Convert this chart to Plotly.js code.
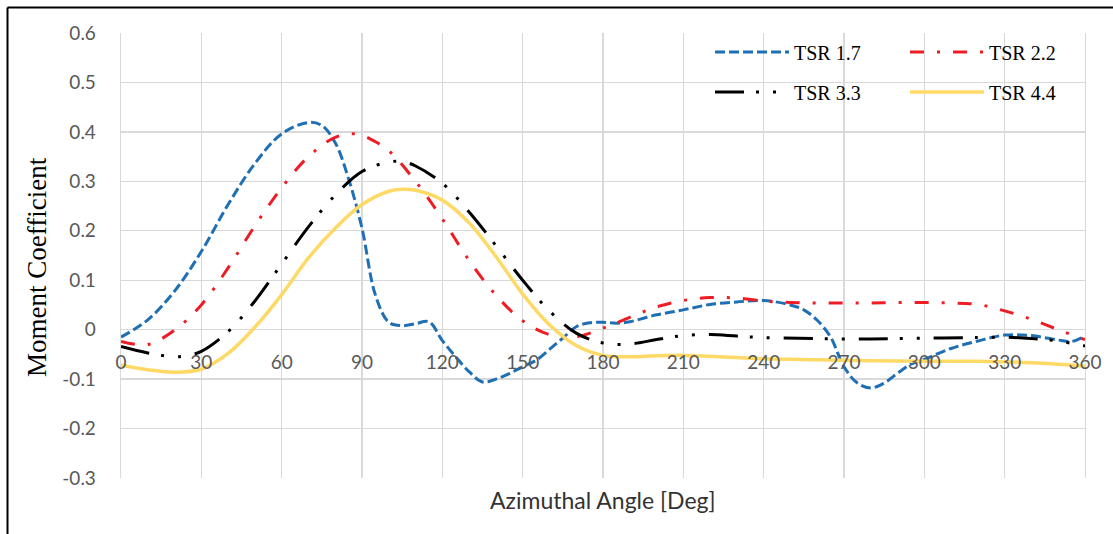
<!DOCTYPE html>
<html>
<head>
<meta charset="utf-8">
<script src="https://cdn.plot.ly/plotly-3.0.1.min.js"></script>
<style>
html, body { margin: 0; padding: 0; background: #ffffff; }
#chart { width: 1113px; height: 534px; }
</style>
</head>
<body>
<div id="chart"></div>
<script>
// ---- Data ----
const seriesNames = ["TSR 1.7", "TSR 2.2", "TSR 3.3", "TSR 4.4"];

const anglesTSR17 = [0,10,20,30,40,50,60,70,75,80,85,90,95,100,105,110,115,120,125,130,135,140,145,150,155,160,165,170,175,180,185,190,200,210,220,230,240,250,255,260,265,270,275,280,285,290,295,300,310,320,330,340,350,355,360];
const cmTSR17 = [-0.015,0.02,0.078,0.158,0.253,0.336,0.396,0.419,0.413,0.378,0.305,0.205,0.07,0.015,0.008,0.012,0.016,-0.022,-0.055,-0.085,-0.106,-0.1,-0.089,-0.075,-0.062,-0.04,-0.017,0.006,0.014,0.015,0.013,0.016,0.03,0.04,0.051,0.056,0.059,0.05,0.04,0.019,-0.015,-0.075,-0.108,-0.118,-0.108,-0.088,-0.07,-0.06,-0.038,-0.023,-0.011,-0.012,-0.021,-0.024,-0.013];

const anglesTSR22 = [0,10,20,30,40,50,60,70,80,88,95,100,110,120,130,140,150,160,170,180,190,200,210,220,230,240,250,260,270,280,290,300,310,320,330,340,350,360];
const cmTSR22 = [-0.024,-0.03,-0.001,0.05,0.125,0.21,0.287,0.35,0.389,0.396,0.38,0.362,0.3,0.224,0.14,0.07,0.018,-0.01,-0.014,0.003,0.025,0.046,0.059,0.065,0.064,0.058,0.055,0.054,0.054,0.054,0.055,0.055,0.054,0.051,0.038,0.021,0.0,-0.02];

const anglesTSR33 = [0,10,20,25,30,40,50,60,70,80,90,100,105,110,120,130,140,150,160,170,180,190,200,210,220,230,240,260,280,300,320,330,340,350,360];
const cmTSR33 = [-0.034,-0.047,-0.055,-0.052,-0.044,-0.004,0.058,0.133,0.208,0.272,0.32,0.339,0.34,0.331,0.296,0.238,0.17,0.1,0.038,-0.007,-0.027,-0.029,-0.02,-0.012,-0.01,-0.013,-0.016,-0.018,-0.019,-0.017,-0.016,-0.015,-0.018,-0.023,-0.033];

const anglesTSR44 = [0,10,20,30,40,50,60,70,80,90,100,105,110,120,130,140,150,160,170,180,190,200,210,220,240,260,280,300,320,340,350,360];
const cmTSR44 = [-0.072,-0.081,-0.086,-0.08,-0.048,0.005,0.071,0.145,0.205,0.253,0.28,0.284,0.282,0.262,0.216,0.148,0.072,0.01,-0.032,-0.052,-0.055,-0.053,-0.052,-0.054,-0.059,-0.061,-0.063,-0.064,-0.064,-0.067,-0.07,-0.074];

const xTickVals = [0,30,60,90,120,150,180,210,240,270,300,330,360];
const xTickText = ["0","30","60","90","120","150","180","210","240","270","300","330","360"];
const yTickVals = [-0.3,-0.2,-0.1,0,0.1,0.2,0.3,0.4,0.5,0.6];
const yTickText = ["-0.3","-0.2","-0.1","0","0.1","0.2","0.3","0.4","0.5","0.6"];

const xTitle = "Azimuthal Angle [Deg]";
const yTitle = "Moment Coefficient";

// ---- Styling ----
const W = 1113, H = 534;
const M = {l: 121, r: 28, t: 33, b: 56, autoexpand: false};
const plotW = W - M.l - M.r, plotH = H - M.t - M.b;
const yMin = -0.3, yMax = 0.6;
const zeroFrac = (0 - yMin) / (yMax - yMin);
const px2fx = p => (p - M.l) / plotW;
const py2fy = p => 1 - (p - M.t) / plotH;

const tickFont = {family: "Lato, 'Open Sans', sans-serif", size: 19, color: "#595959"};
const gridColor = "#D9D9D9";

function mk(x, y, name, color, dash, width, legendId) {
  return {
    type: "scatter", mode: "lines", x: x, y: y, name: name,
    line: {color: color, dash: dash, width: width, shape: "spline", smoothing: 1},
    legend: legendId, hoverinfo: "x+y+name"
  };
}

const traces = [
  mk(anglesTSR17, cmTSR17, seriesNames[0], "#1F6FB5", "10px,4px", 3, "legend"),
  mk(anglesTSR22, cmTSR22, seriesNames[1], "#EE1C25", "14px,13px,3px,13px", 3, "legend"),
  mk(anglesTSR33, cmTSR33, seriesNames[2], "#000000", "29px,12px,3px,14px,3px,14px", 3, "legend2"),
  mk(anglesTSR44, cmTSR44, seriesNames[3], "#FFD966", "solid", 3.5, "legend2")
];

const legendFont = {family: "'Liberation Serif', 'Times New Roman', serif", size: 20, color: "#000000"};
function legendAt(yPx) {
  return {
    orientation: "h", x: px2fx(710), xanchor: "left",
    y: py2fy(yPx), yanchor: "middle",
    bgcolor: "rgba(0,0,0,0)", borderwidth: 0, font: legendFont,
    entrywidth: 106, entrywidthmode: "pixels", itemwidth: 74,
    traceorder: "normal"
  };
}

const layout = {
  width: W, height: H,
  margin: M,
  paper_bgcolor: "#ffffff", plot_bgcolor: "#ffffff",
  showlegend: true,
  legend: legendAt(52),
  legend2: legendAt(92),
  xaxis: {
    range: [0, 360], anchor: "free", position: zeroFrac,
    tickmode: "array", tickvals: xTickVals, ticktext: xTickText,
    showgrid: true, gridcolor: gridColor, gridwidth: 1.3,
    zeroline: false, showline: false, ticks: "",
    ticklabelstandoff: 19,
    tickfont: tickFont, fixedrange: true
  },
  yaxis: {
    range: [yMin, yMax],
    tickmode: "array", tickvals: yTickVals, ticktext: yTickText,
    showgrid: true, gridcolor: gridColor, gridwidth: 1.3,
    zeroline: false, showline: true, mirror: true, linecolor: gridColor, linewidth: 1.3,
    ticks: "", ticklabelstandoff: 20,
    tickfont: tickFont,
    fixedrange: true
  },
  annotations: [
    {text: xTitle, xref: "paper", yref: "paper", x: px2fx(603), y: py2fy(500),
     xanchor: "center", yanchor: "middle", showarrow: false,
     font: {family: "Lato, 'Open Sans', sans-serif", size: 23, color: "#333333"}},
    {text: yTitle, xref: "paper", yref: "paper", x: px2fx(37), y: py2fy(267),
     xanchor: "center", yanchor: "middle", showarrow: false, textangle: -90,
     font: {family: "'Liberation Serif', 'Times New Roman', serif", size: 27, color: "#000000"}}
  ],
  shapes: [
    {type: "line", xref: "paper", yref: "paper",
     x0: px2fx(7.5), x1: px2fx(W + 10),
     y0: py2fy(7.5), y1: py2fy(7.5),
     line: {color: "#000000", width: 2}},
    {type: "line", xref: "paper", yref: "paper",
     x0: px2fx(7.5), x1: px2fx(7.5),
     y0: py2fy(7.5), y1: py2fy(H + 10),
     line: {color: "#000000", width: 2}}
  ]
};

Plotly.newPlot("chart", traces, layout, {displayModeBar: false, staticPlot: true});
</script>
</body>
</html>
